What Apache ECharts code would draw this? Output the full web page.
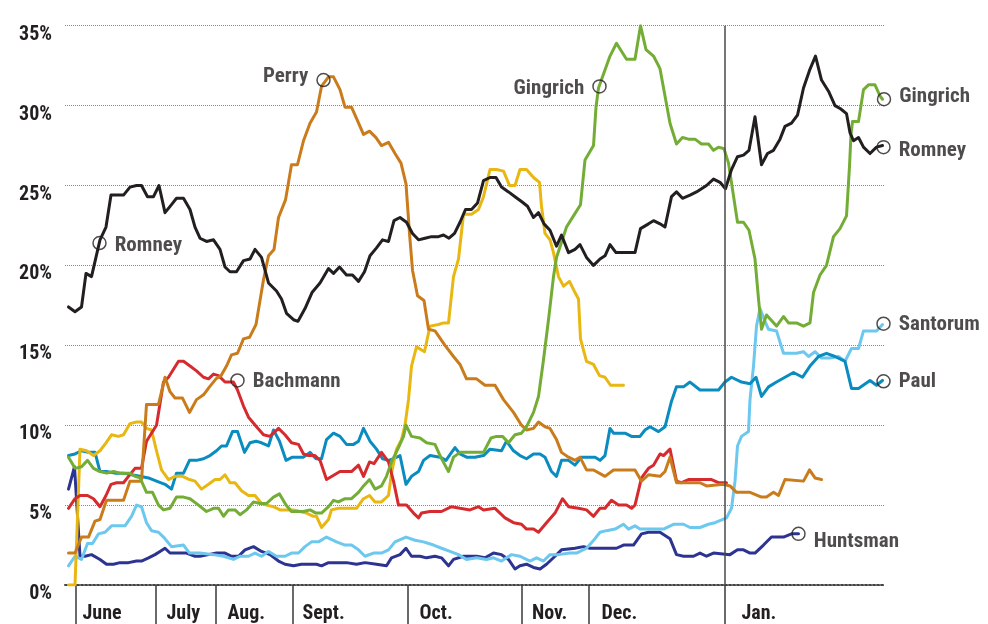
<!DOCTYPE html>
<html>
<head>
<meta charset="utf-8">
<script src="https://cdn.jsdelivr.net/npm/echarts@6/dist/echarts.min.js"></script>
<style>
html,body{margin:0;padding:0;background:#fff;}
#chart{width:988px;height:624px;}
</style>
</head>
<body>
<div id="chart"></div>
<script>
// x = poll sequence position (arbitrary units along the time axis), y = percent support
const monthNames = ['June', 'July', 'Aug.', 'Sept.', 'Oct.', 'Nov.', 'Dec.', 'Jan.'];
const monthStarts = [2.1, 18.1, 30.1, 45.5, 68.5, 91.4, 104.7, 131.9];
const yTicks = [0, 5, 10, 15, 20, 25, 30, 35];

const romney = [[0.7,17.4],[2.0,17.1],[3.3,17.4],[4.2,19.5],[5.3,19.3],[7.0,21.6],[8.2,22.4],[9.2,24.4],[11.7,24.4],[13.0,24.9],[14.3,25.0],[15.3,25.0],[16.5,24.3],[17.7,24.3],[18.8,25.0],[20.0,23.3],[21.3,23.8],[22.3,24.2],[23.7,24.2],[25.0,23.5],[26.0,22.4],[27.0,21.7],[28.3,21.5],[29.7,21.6],[31.0,21.0],[32.0,19.9],[33.0,19.6],[34.3,19.6],[35.7,20.3],[37.0,20.4],[38.0,21.0],[39.3,20.5],[40.7,18.9],[42.3,18.4],[43.3,17.9],[44.3,17.0],[45.7,16.6],[46.6,16.5],[48.0,17.3],[49.4,18.3],[51.0,18.9],[52.7,19.8],[53.7,19.5],[54.9,19.9],[56.3,19.4],[57.5,19.4],[58.7,19.0],[59.9,19.6],[61.0,20.6],[62.3,21.1],[63.5,21.6],[64.7,21.5],[65.8,22.8],[67.0,23.0],[68.3,22.7],[69.5,22.0],[70.7,21.6],[72.0,21.7],[73.3,21.8],[74.7,21.8],[75.7,21.9],[76.8,21.7],[77.9,22.0],[79.0,22.7],[80.1,23.5],[81.3,23.5],[82.5,23.9],[83.7,25.3],[85.0,25.5],[86.2,25.5],[87.3,24.9],[88.7,24.6],[90.0,24.3],[91.3,24.0],[92.5,23.7],[93.7,23.0],[94.7,23.3],[95.8,22.6],[97.0,22.2],[98.3,21.2],[99.3,21.9],[100.7,20.8],[102.0,21.0],[103.0,21.3],[104.3,20.5],[105.7,20.0],[107.0,20.4],[108.0,20.6],[109.0,21.3],[110.2,20.8],[114.0,20.8],[115.1,22.3],[116.7,22.6],[117.7,22.8],[119.0,22.6],[120.0,22.4],[121.3,24.3],[122.3,24.6],[123.5,24.2],[125.0,24.4],[126.3,24.6],[128.3,25.0],[129.7,25.4],[131.0,25.2],[132.1,24.8],[133.3,26.0],[134.5,26.8],[135.7,26.9],[136.8,27.2],[138.0,29.3],[139.3,26.3],[140.5,27.0],[141.7,27.2],[143.0,27.9],[144.0,28.7],[145.3,28.9],[146.5,29.4],[147.7,31.1],[148.9,32.2],[150.1,33.1],[151.3,31.6],[152.7,30.9],[154.0,30.0],[155.1,29.8],[156.3,29.5],[157.0,28.3],[157.7,27.8],[158.7,28.0],[159.7,27.4],[161.0,27.0],[162.3,27.4],[163.5,27.5]];

const perry = [[0.7,2.0],[2.0,2.0],[3.3,3.0],[4.7,3.0],[6.0,4.0],[7.0,4.1],[8.3,5.3],[11.7,5.3],[13.0,6.5],[15.3,6.5],[16.3,11.3],[18.7,11.3],[20.0,13.0],[21.0,12.1],[22.0,11.7],[23.5,11.7],[24.9,10.8],[26.3,11.6],[27.7,11.9],[28.9,12.4],[30.2,12.9],[31.2,13.1],[32.3,13.7],[33.3,14.4],[34.5,14.5],[35.7,15.4],[36.9,15.5],[38.2,16.3],[39.7,19.1],[40.7,20.6],[41.8,21.0],[42.7,23.0],[44.1,24.1],[45.3,26.3],[46.5,26.3],[47.7,27.8],[49.0,28.9],[50.3,29.6],[51.3,31.2],[52.7,31.8],[53.7,31.8],[55.0,31.0],[56.0,29.9],[57.3,29.9],[58.3,29.2],[59.7,28.2],[60.9,28.4],[62.2,28.0],[63.3,27.5],[64.7,27.7],[66.0,27.0],[67.2,26.4],[68.2,25.1],[68.9,22.0],[69.5,19.7],[70.5,18.1],[71.8,17.8],[72.7,16.0],[74.0,15.9],[76.0,15.0],[77.7,14.3],[79.0,13.8],[80.3,12.9],[82.3,12.9],[84.0,12.5],[86.0,12.5],[87.7,11.6],[89.7,10.8],[91.3,10.0],[92.3,9.7],[93.7,9.8],[94.7,10.2],[96.0,9.9],[97.0,9.8],[98.3,9.1],[99.3,8.3],[100.7,8.0],[102.0,7.8],[103.0,8.0],[104.3,7.2],[105.7,7.2],[108.0,6.8],[109.7,7.2],[114.0,7.2],[115.3,6.5],[116.7,6.9],[119.0,6.8],[120.0,7.1],[121.0,8.0],[122.3,6.4],[127.0,6.4],[128.3,6.2],[131.7,6.3],[133.0,6.2],[134.3,5.8],[137.0,5.8],[139.3,5.5],[140.3,5.5],[141.7,5.8],[142.7,5.6],[144.0,6.6],[147.7,6.5],[148.9,7.2],[150.0,6.7],[151.3,6.6]];

const bachmann = [[0.7,4.8],[2.0,5.4],[3.0,5.6],[4.5,5.6],[5.7,5.4],[7.0,4.9],[8.2,5.6],[9.2,6.3],[10.3,6.4],[11.7,6.4],[12.7,6.8],[14.0,7.3],[15.3,7.3],[16.3,9.0],[17.3,9.5],[18.3,10.0],[19.7,12.7],[20.7,13.0],[21.7,13.5],[22.7,14.0],[23.7,14.0],[25.0,13.7],[26.3,13.4],[27.7,13.0],[28.7,12.9],[29.7,13.2],[30.7,13.1],[32.0,12.7],[33.7,12.7],[34.5,12.2],[35.7,11.2],[36.7,10.5],[38.3,9.9],[39.7,9.4],[41.0,9.3],[42.7,9.8],[44.0,9.4],[45.3,8.9],[46.7,8.8],[47.7,8.2],[48.7,8.1],[50.0,8.1],[51.0,7.8],[52.3,6.6],[52.7,6.5],[55.0,7.1],[57.3,7.1],[58.7,7.5],[59.7,6.8],[60.9,7.7],[61.8,7.6],[63.3,8.3],[64.7,7.7],[65.7,6.5],[66.7,5.0],[68.3,5.0],[69.7,4.5],[70.7,4.2],[71.3,4.5],[73.0,4.6],[75.3,4.6],[77.3,4.9],[79.0,4.8],[81.0,4.7],[82.7,4.9],[83.7,4.7],[86.0,4.8],[88.0,4.2],[89.7,3.9],[91.3,3.8],[92.3,3.5],[93.7,3.5],[94.7,3.3],[96.3,3.9],[98.0,4.5],[99.5,5.4],[100.7,4.9],[102.7,4.8],[104.3,4.7],[105.7,4.3],[107.0,4.8],[108.0,4.8],[109.3,5.3],[110.7,5.0],[112.3,5.0],[113.3,4.8],[114.0,5.0],[115.3,6.7],[116.7,7.3],[117.7,7.5],[119.0,8.2],[119.7,8.1],[121.0,8.5],[122.3,6.5],[123.3,6.4],[124.7,6.6],[129.3,6.6],[130.7,6.4],[132.3,6.4]];

const gingrich = [[0.7,8.0],[2.0,7.3],[3.3,7.4],[4.5,7.8],[5.7,7.3],[7.0,7.1],[8.3,7.0],[9.7,7.1],[11.0,7.0],[12.0,7.0],[13.0,7.0],[14.0,6.8],[15.0,6.7],[16.3,5.8],[17.5,5.8],[18.7,5.0],[19.7,4.7],[21.0,4.8],[22.3,5.5],[23.7,5.5],[25.0,5.4],[26.7,5.0],[28.3,4.6],[29.7,4.8],[30.7,4.8],[31.7,4.3],[32.7,4.7],[34.0,4.7],[35.0,4.4],[36.3,4.7],[37.7,5.2],[39.0,5.1],[40.3,5.1],[41.7,5.5],[42.9,5.7],[44.2,5.0],[45.3,4.6],[47.7,4.6],[49.0,4.7],[50.2,4.5],[51.3,4.5],[52.7,4.9],[53.7,5.3],[54.7,5.2],[56.0,5.4],[57.3,5.4],[58.7,5.8],[59.7,6.2],[60.9,6.6],[62.0,6.0],[63.3,6.2],[64.3,6.8],[65.3,7.7],[66.7,8.6],[67.7,9.3],[68.2,10.0],[69.3,9.3],[71.0,9.2],[72.3,8.9],[74.0,8.8],[75.0,8.1],[76.0,7.5],[76.7,7.1],[77.7,8.0],[79.0,8.3],[81.0,8.3],[83.7,8.3],[85.2,9.2],[86.3,9.3],[87.5,9.3],[88.7,8.9],[90.0,9.4],[91.3,9.5],[92.3,9.9],[93.7,10.8],[94.7,11.8],[95.7,14.1],[96.7,16.6],[97.7,19.3],[98.3,20.5],[100.3,22.4],[101.7,23.1],[103.1,23.8],[104.0,26.6],[105.7,27.5],[106.2,29.9],[106.7,31.1],[109.0,33.1],[110.3,33.9],[112.3,32.9],[114.0,32.9],[115.1,35.0],[116.2,33.5],[117.7,33.1],[118.7,32.5],[119.0,32.3],[120.0,30.6],[121.0,28.9],[122.3,27.6],[123.5,28.0],[124.7,27.9],[126.0,27.9],[127.3,27.6],[128.7,27.6],[129.7,27.2],[130.7,27.4],[131.8,27.3],[132.7,26.4],[134.5,22.7],[135.7,22.7],[136.8,22.2],[138.0,20.4],[138.7,17.9],[139.3,16.0],[140.3,16.9],[142.3,16.2],[143.7,16.8],[144.7,16.4],[146.3,16.4],[147.7,16.2],[149.0,16.4],[149.7,18.3],[151.0,19.4],[152.3,20.0],[153.7,21.8],[155.0,22.3],[156.3,23.1],[156.9,26.2],[157.2,28.2],[157.5,29.0],[158.7,29.0],[159.7,31.0],[160.7,31.3],[162.0,31.3],[163.0,30.6],[163.5,30.4]];

const cain = [[0.7,0],[2.0,0],[3.0,8.5],[4.3,8.4],[5.7,8.1],[7.0,8.4],[8.2,8.9],[9.3,9.4],[10.7,9.3],[11.7,9.4],[13.0,10.1],[14.3,10.2],[15.3,10.2],[16.3,9.8],[17.3,9.7],[18.3,8.4],[19.3,7.2],[20.7,6.6],[22.0,6.8],[23.5,6.8],[24.9,6.6],[26.0,6.5],[27.3,6.0],[28.7,6.3],[30.0,6.6],[31.0,6.6],[32.0,6.9],[33.0,6.4],[34.0,6.4],[35.3,5.9],[36.7,5.6],[38.0,5.6],[39.3,5.1],[40.3,5.0],[41.7,4.9],[43.0,4.7],[44.7,4.7],[45.7,4.7],[47.0,4.6],[48.3,4.5],[49.7,4.3],[50.3,4.3],[51.3,3.6],[52.7,4.1],[53.3,4.7],[54.7,4.8],[56.3,4.8],[58.3,4.8],[59.7,5.4],[60.9,5.6],[62.0,5.2],[63.3,5.2],[64.7,5.6],[65.3,7.0],[66.3,8.5],[67.3,9.1],[68.0,10.0],[68.7,11.6],[69.3,13.7],[70.3,14.9],[71.9,14.6],[73.0,16.2],[74.7,16.3],[75.7,16.4],[76.7,16.4],[77.7,19.3],[78.7,20.4],[79.7,23.2],[81.3,23.2],[82.7,23.5],[83.7,24.3],[85.0,26.0],[86.3,26.0],[87.7,25.9],[88.9,25.0],[90.0,25.0],[91.0,26.0],[92.3,26.0],[93.7,25.5],[94.9,25.2],[95.3,23.7],[96.0,22.0],[97.0,21.6],[97.7,20.8],[98.7,19.3],[99.7,18.7],[100.9,19.0],[102.0,18.3],[102.7,17.9],[103.1,15.4],[104.3,14.0],[105.7,13.8],[106.9,13.1],[108.0,13.0],[109.1,12.5],[111.7,12.5]];

const paul = [[0.7,8.1],[2.0,8.2],[3.3,8.4],[4.7,8.3],[6.0,8.3],[7.0,7.1],[8.3,7.1],[10.0,7.0],[11.7,7.0],[13.3,6.9],[15.0,6.8],[16.7,6.7],[18.3,6.5],[20.0,6.3],[21.3,6.0],[22.3,7.0],[23.7,7.0],[24.9,7.8],[26.3,7.8],[27.7,7.9],[29.0,8.1],[30.3,8.4],[31.3,8.7],[32.3,8.7],[33.5,9.6],[34.5,9.6],[35.9,8.3],[37.0,8.9],[38.2,9.0],[39.3,8.9],[40.7,8.7],[41.7,9.7],[42.9,9.0],[44.2,7.8],[45.5,8.0],[47.7,8.0],[49.0,8.3],[50.2,7.9],[51.3,7.9],[52.3,9.1],[53.7,9.5],[55.0,9.3],[56.3,8.8],[57.7,8.8],[58.7,9.0],[59.7,9.8],[61.0,9.0],[62.3,8.5],[63.5,7.9],[64.7,7.8],[65.7,7.9],[67.0,8.1],[68.2,6.3],[69.3,6.8],[70.7,7.1],[71.7,7.8],[73.0,8.1],[75.0,8.0],[76.2,7.8],[77.1,8.2],[78.0,8.6],[79.0,8.2],[80.3,8.0],[82.0,8.0],[83.7,8.1],[85.0,8.5],[87.3,8.4],[88.3,9.0],[89.7,8.4],[91.0,8.1],[92.3,7.9],[93.7,8.2],[95.0,8.2],[96.0,8.0],[97.3,7.1],[98.3,6.8],[99.3,7.8],[100.7,7.8],[102.0,7.5],[103.3,8.0],[106.0,8.0],[107.0,7.8],[108.0,8.1],[109.0,9.8],[109.7,9.5],[112.0,9.5],[113.3,9.3],[115.0,9.3],[116.0,9.7],[117.0,9.9],[118.7,9.6],[120.0,9.9],[121.3,11.5],[122.3,12.4],[123.7,12.4],[125.0,12.7],[127.0,12.2],[130.7,12.2],[132.0,12.7],[133.3,13.0],[135.3,12.7],[137.0,12.6],[138.2,13.0],[139.3,11.8],[140.7,12.4],[142.3,12.7],[144.0,13.0],[145.7,13.3],[147.5,13.0],[149.0,13.7],[150.7,14.3],[152.3,14.5],[154.0,14.3],[156.0,14.0],[157.3,12.3],[158.7,12.3],[161.0,12.8],[162.3,12.5],[163.5,12.8]];

const santorum = [[0.7,1.2],[2.0,1.8],[3.3,1.6],[4.5,2.6],[5.5,2.6],[6.7,3.2],[8.0,3.3],[9.3,3.7],[12.0,3.7],[13.3,4.3],[14.3,5.0],[15.3,4.9],[16.3,3.9],[17.3,3.4],[18.7,3.3],[19.7,3.0],[21.3,2.4],[23.7,2.5],[24.9,2.0],[27.0,2.0],[29.7,1.9],[31.7,1.8],[33.7,1.6],[35.0,1.8],[36.7,1.8],[38.0,2.0],[39.3,1.8],[40.7,2.1],[42.3,1.8],[44.0,1.8],[45.3,2.0],[46.7,2.0],[48.0,2.4],[49.3,2.7],[50.7,2.7],[52.3,3.0],[54.3,2.7],[56.0,2.5],[57.3,2.5],[58.7,2.2],[60.0,1.8],[61.7,2.0],[63.3,2.0],[64.7,2.2],[66.0,2.7],[68.2,3.0],[70.0,2.8],[71.7,2.7],[73.7,2.5],[75.3,2.3],[77.0,2.1],[78.7,1.9],[80.3,1.6],[82.3,1.7],[84.3,1.6],[85.7,1.7],[87.3,1.5],[89.3,1.9],[91.0,1.8],[93.0,1.5],[94.3,1.7],[95.7,1.5],[97.0,1.9],[98.7,1.9],[101.0,2.0],[102.3,2.0],[104.3,2.3],[106.0,2.9],[107.0,3.3],[108.3,3.4],[110.0,3.5],[111.7,3.8],[112.7,3.5],[114.0,3.7],[115.0,3.5],[117.7,3.5],[119.7,3.5],[121.7,3.8],[123.7,3.8],[125.0,3.6],[127.0,3.6],[128.7,3.8],[130.0,3.9],[132.3,4.2],[133.3,4.8],[134.0,6.5],[134.5,8.7],[135.3,9.3],[136.7,9.6],[137.0,11.6],[137.7,13.7],[138.3,16.2],[139.0,17.3],[140.0,16.5],[140.7,16.0],[142.3,15.9],[143.7,14.5],[146.3,14.5],[147.7,14.6],[148.7,14.3],[150.0,14.6],[151.3,14.2],[153.0,14.2],[154.7,14.3],[156.0,14.0],[157.3,14.8],[158.7,14.8],[159.7,15.9],[162.3,15.9],[163.5,16.3]];

const huntsman = [[0.7,6.0],[1.9,7.4],[3.0,1.8],[4.0,1.8],[5.3,1.9],[7.0,1.6],[8.3,1.3],[9.7,1.3],[11.0,1.4],[12.7,1.4],[14.3,1.5],[15.3,1.5],[16.7,1.7],[18.0,1.9],[19.0,2.1],[20.0,2.3],[21.0,2.0],[23.0,2.0],[24.3,2.0],[26.0,1.8],[27.0,1.8],[28.7,1.9],[30.3,2.0],[32.0,2.0],[33.3,1.8],[34.7,1.8],[36.0,2.2],[37.7,2.4],[39.3,2.1],[41.0,1.9],[42.7,1.5],[44.0,1.3],[45.7,1.2],[47.3,1.3],[50.3,1.3],[51.3,1.2],[52.7,1.4],[56.3,1.4],[58.3,1.3],[60.0,1.4],[62.3,1.3],[64.3,1.2],[65.3,1.7],[67.0,1.9],[68.2,2.3],[69.3,1.8],[71.0,1.8],[72.3,1.7],[74.0,1.8],[75.3,1.7],[76.7,1.2],[77.7,1.6],[79.7,1.8],[82.3,1.8],[84.0,1.7],[85.7,2.0],[87.3,1.9],[88.7,1.6],[90.0,1.0],[91.0,1.2],[92.3,1.3],[93.7,1.1],[95.0,1.0],[96.3,1.3],[98.0,1.8],[99.3,2.2],[102.0,2.3],[103.7,2.4],[105.0,2.3],[110.3,2.3],[111.7,2.5],[113.7,2.5],[115.3,3.2],[116.7,3.3],[119.0,3.3],[121.0,2.9],[122.3,1.9],[123.7,1.8],[125.7,1.8],[127.0,2.0],[128.3,1.8],[129.7,2.0],[133.0,1.9],[134.5,2.2],[135.7,2.2],[137.0,2.0],[138.0,2.0],[139.7,2.5],[141.3,3.0],[143.7,3.0],[145.3,3.2],[146.7,3.2]];

// Annotated points (open circles with candidate names)
const annoNames = ['Romney', 'Perry', 'Bachmann', 'Gingrich', 'Gingrich', 'Romney', 'Santorum', 'Paul', 'Huntsman'];
const annoX = [6.9, 51.7, 34.5, 106.9, 163.8, 163.7, 163.7, 163.7, 146.7];
const annoY = [21.4, 31.6, 12.8, 31.2, 30.4, 27.4, 16.35, 12.75, 3.2];

const FONT = '"Liberation Sans Narrow", "Roboto Condensed", Roboto, "Noto Sans", sans-serif';
const INK = '#231f20';

const seriesDefs = [
  { name: 'Huntsman', data: huntsman, color: '#2d3391' },
  { name: 'Santorum', data: santorum, color: '#6cc8ee' },
  { name: 'Paul', data: paul, color: '#0a8cc0' },
  { name: 'Cain', data: cain, color: '#e9b711' },
  { name: 'Bachmann', data: bachmann, color: '#d52b2e' },
  { name: 'Perry', data: perry, color: '#ca7c1c' },
  { name: 'Gingrich', data: gingrich, color: '#74ad35' },
  { name: 'Romney', data: romney, color: INK }
];

// label placement for each annotation (style only)
const annoLayout = [
  { pos: 'right', dy: 3 }, { pos: 'left', dy: -3 }, { pos: 'right', dy: 1 },
  { pos: 'left', dy: 2 }, { pos: 'right', dy: -2 }, { pos: 'right', dy: 4 },
  { pos: 'right', dy: 1 }, { pos: 'right', dy: 0 }, { pos: 'right', dy: 8 }
];
// left padding of each month label after its separator tick (style only)
const monthPad = [7, 11, 12, 10, 12, 10, 13, 17];

const series = seriesDefs.map(function (s) {
  return {
    name: s.name, type: 'line', data: s.data, showSymbol: false, symbol: 'none',
    lineStyle: { width: 3, color: s.color, cap: 'round', join: 'round' },
    itemStyle: { color: s.color }, animation: false, silent: true
  };
});

// January separator line spanning the plot
series[0].markLine = {
  silent: true, symbol: 'none', animation: false,
  label: { show: false },
  lineStyle: { color: '#4a4a4a', width: 1.5, type: 'solid' },
  data: [{ xAxis: monthStarts[7] }]
};

series.push({
  type: 'scatter', z: 10, animation: false, silent: true,
  symbol: 'circle', symbolSize: 13,
  itemStyle: { color: 'rgba(255,255,255,0)', borderColor: INK, borderWidth: 1.5 },
  data: annoNames.map(function (n, i) {
    return {
      value: [annoX[i], annoY[i]],
      label: {
        show: true, formatter: n, position: annoLayout[i].pos, distance: 8,
        offset: [0, annoLayout[i].dy],
        fontFamily: FONT, fontWeight: 'bold', fontSize: 21, color: INK
      }
    };
  })
});

const rich = {};
monthPad.forEach(function (p, i) {
  rich['m' + i] = { padding: [0, 0, 0, p], fontFamily: FONT, fontWeight: 'bold', fontSize: 20, color: INK };
});

const chart = echarts.init(document.getElementById('chart'), null, { renderer: 'canvas' });
chart.setOption({
  backgroundColor: '#fff',
  animation: false,
  grid: { left: 65, right: 103, top: 25.7, bottom: 38.3, containLabel: false },
  xAxis: {
    type: 'value', min: 0, max: 164,
    splitLine: { show: false },
    axisLine: { show: true, lineStyle: { color: '#444', width: 2, type: 'dotted' } },
    axisTick: {
      show: true, customValues: monthStarts, length: 40, inside: false,
      lineStyle: { color: '#3a3a3a', width: 1.5 }
    },
    axisLabel: {
      show: true, customValues: monthStarts, margin: 19, align: 'left',
      fontFamily: FONT, fontWeight: 'bold', fontSize: 20, color: INK,
      rich: rich,
      formatter: function (v) {
        var k = monthStarts.indexOf(v);
        return k >= 0 ? '{m' + k + '|' + monthNames[k] + '}' : '';
      }
    }
  },
  yAxis: {
    type: 'value', min: 0, max: 35, interval: 5,
    axisLine: { show: false }, axisTick: { show: false },
    splitLine: { show: true, lineStyle: { color: '#8a8a8a', width: 1, type: 'dotted' } },
    axisLabel: {
      margin: 13, verticalAlign: 'top', lineHeight: 18,
      fontFamily: FONT, fontWeight: 'bold', fontSize: 20, color: INK,
      formatter: function (v) { return yTicks.indexOf(v) >= 0 ? v + '%' : ''; }
    }
  },
  series: series
});
</script>
</body>
</html>
